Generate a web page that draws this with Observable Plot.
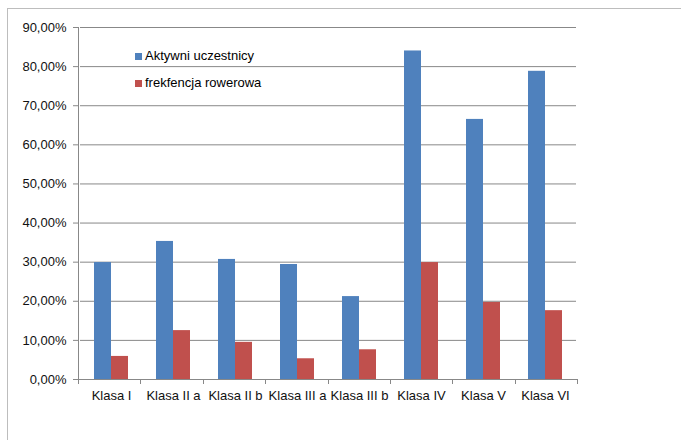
<!DOCTYPE html>
<html>
<head>
<meta charset="utf-8">
<script src="https://cdn.jsdelivr.net/npm/d3@7"></script>
<script src="https://cdn.jsdelivr.net/npm/@observablehq/plot@0.6"></script>
<style>
  html, body { margin: 0; padding: 0; background: #fff; overflow: hidden; }
  #wrap { position: relative; width: 681px; height: 440px; overflow: hidden; font-family: "Liberation Sans", Arial, sans-serif; }
  #border { position: absolute; left: 7px; top: 8px; width: 720px; height: 480px; border: 1px solid #bdbdbd; box-sizing: border-box; }
  #chart { position: absolute; left: 0; top: 0; }
  #legend { position: absolute; left: 135px; top: 42px; font-size: 13px; color: #000; line-height: 27px; }
  #legend .sw { display: inline-block; width: 7px; height: 7px; margin-right: 3px; vertical-align: 0px; }
</style>
</head>
<body>
<div id="wrap">
  <div id="border"></div>
  <div id="chart"></div>
  <div id="legend"></div>
</div>
<script>
const classes = ["Klasa I", "Klasa II a", "Klasa II b", "Klasa III a", "Klasa III b", "Klasa IV", "Klasa V", "Klasa VI"];
const series = ["Aktywni uczestnicy", "frekfencja rowerowa"];
const activeValues = [29.9, 35.3, 30.7, 29.4, 21.2, 84.0, 66.5, 78.8];
const bikeValues = [5.9, 12.5, 9.5, 5.3, 7.6, 29.9, 19.7, 17.6];
const yTicks = [0, 10, 20, 30, 40, 50, 60, 70, 80, 90];
const colors = ["#4F81BD", "#C0504D"];
const gridColor = "#888888";

const data = [];
classes.forEach((c, i) => {
  data.push({cls: c, series: series[0], value: activeValues[i]});
  data.push({cls: c, series: series[1], value: bikeValues[i]});
});

const fmt = d => d.toFixed(2).replace(".", ",") + "%";

const chart = Plot.plot({
  width: 681,
  height: 440,
  marginLeft: 78,
  marginRight: 104,
  marginTop: 27,
  marginBottom: 61,
  style: {fontFamily: "Liberation Sans, Arial, sans-serif", fontSize: "13px", color: "#111", background: "transparent"},
  fx: {domain: classes, paddingInner: 0, paddingOuter: 0, label: null, axis: "bottom", tickSize: 0, tickPadding: 11},
  x: {domain: series, paddingInner: 0, paddingOuter: 0.75, axis: null},
  y: {domain: [0, 90], ticks: yTicks, tickFormat: fmt, tickSize: 0, tickPadding: 14, label: null},
  color: {domain: series, range: colors},
  marks: [
    Plot.ruleY(yTicks, {stroke: gridColor, strokeWidth: 1}),
    Plot.barY(data, {fx: "cls", x: "series", y: "value", fill: "series"})
  ]
});
document.getElementById("chart").appendChild(chart);

// axis lines and tick marks derived from the scales
const ys = chart.scale("y");
const yScale = d3.scaleLinear(ys.domain, ys.range);
const fs = chart.scale("fx");
const fxScale = d3.scaleBand(fs.domain, fs.range).paddingInner(0).paddingOuter(0);
const svg = d3.select(chart);
const g = svg.append("g").attr("stroke", gridColor).attr("stroke-width", 1);
const x0 = fxScale.range()[0];
const x1 = fxScale.range()[1];
// y axis line
g.append("line").attr("x1", x0 + 0.5).attr("x2", x0 + 0.5).attr("y1", yScale(ys.domain[1])).attr("y2", yScale(0));
// y ticks
yTicks.forEach(t => {
  g.append("line").attr("x1", x0 - 5).attr("x2", x0).attr("y1", yScale(t) + 0.5).attr("y2", yScale(t) + 0.5);
});
// x axis line
g.append("line").attr("x1", x0).attr("x2", x1).attr("y1", yScale(0) + 0.5).attr("y2", yScale(0) + 0.5);
// category boundary ticks
const bounds = classes.map(c => fxScale(c)).concat([x1]);
bounds.forEach(b => {
  g.append("line").attr("x1", Math.round(b) + 0.5).attr("x2", Math.round(b) + 0.5).attr("y1", yScale(0)).attr("y2", yScale(0) + 5);
});

// legend
const legend = d3.select("#legend");
series.forEach((s, i) => {
  const row = legend.append("div");
  row.append("span").attr("class", "sw").style("background", colors[i]);
  row.append("span").text(s);
});
</script>
</body>
</html>
